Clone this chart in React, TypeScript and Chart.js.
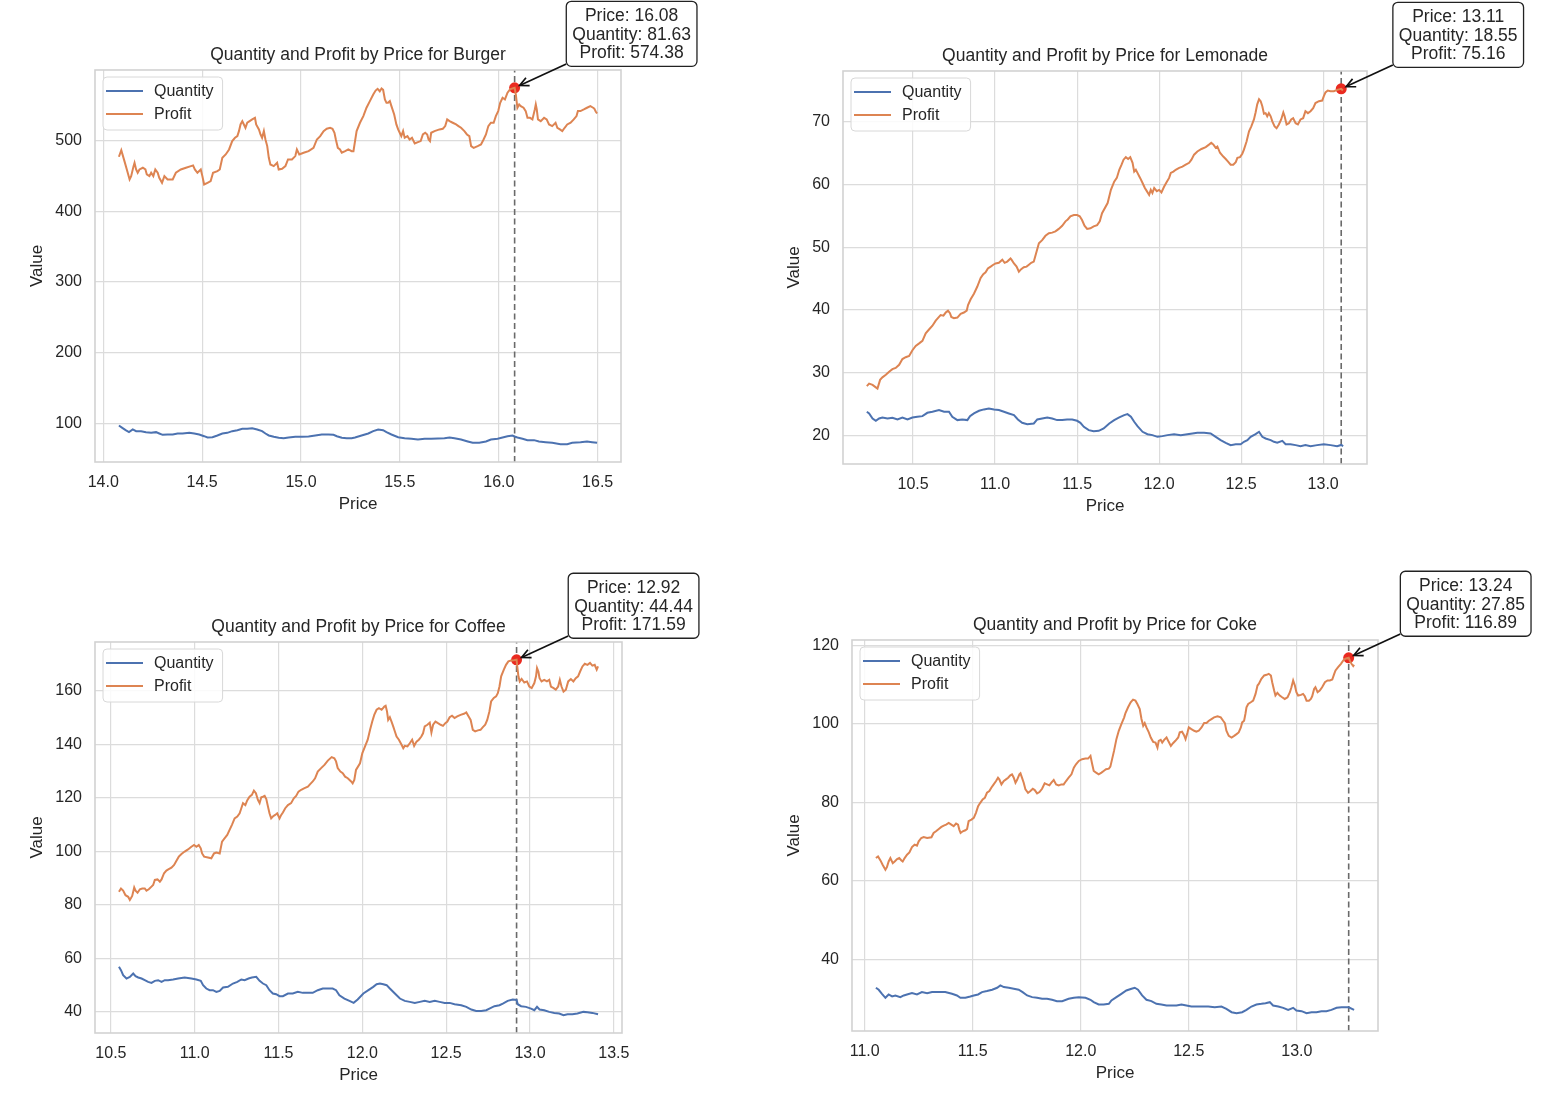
import React, { useEffect, useRef } from 'react';
import { Chart, registerables } from 'chart.js';

Chart.register(...registerables);

const FONT = '"Liberation Sans", Arial, Helvetica, sans-serif';
const TEXT = '#262626';
const BLUE = '#4C72B0';
const ORANGE = '#DD8452';
const GRID = '#dcdcdc';

// ---------------- Burger ----------------
const burgerProfitPrice = [
  14.079, 14.091, 14.107, 14.119, 14.133, 14.141, 14.153, 14.158, 14.166, 14.174,
  14.183, 14.2, 14.213, 14.22, 14.233, 14.242, 14.253, 14.263, 14.275, 14.283,
  14.297, 14.309, 14.325, 14.351, 14.367, 14.392, 14.418, 14.443, 14.454, 14.463,
  14.476, 14.493, 14.501, 14.51, 14.527, 14.543, 14.555, 14.577, 14.589, 14.602,
  14.619, 14.636, 14.652, 14.666, 14.678, 14.686, 14.694, 14.703, 14.711, 14.719,
  14.728, 14.74, 14.753, 14.767, 14.773, 14.787, 14.795, 14.803, 14.812, 14.82,
  14.829, 14.837, 14.845, 14.862, 14.879, 14.887, 14.904, 14.921, 14.934, 14.954,
  14.971, 14.979, 14.991, 15.013, 15.038, 15.063, 15.08, 15.097, 15.114, 15.13,
  15.147, 15.159, 15.169, 15.176, 15.186, 15.197, 15.206, 15.223, 15.239, 15.256,
  15.265, 15.273, 15.281, 15.298, 15.315, 15.331, 15.348, 15.365, 15.377, 15.387,
  15.398, 15.407, 15.415, 15.424, 15.432, 15.44, 15.449, 15.457, 15.471, 15.482,
  15.491, 15.499, 15.507, 15.516, 15.524, 15.538, 15.549, 15.561, 15.575, 15.591,
  15.605, 15.616, 15.628, 15.638, 15.645, 15.652, 15.658, 15.675, 15.7, 15.717,
  15.729, 15.739, 15.751, 15.767, 15.784, 15.796, 15.809, 15.826, 15.839, 15.851,
  15.86, 15.873, 15.893, 15.91, 15.923, 15.935, 15.947, 15.96, 15.974, 15.985,
  15.997, 16.007, 16.019, 16.031, 16.044, 16.057, 16.069, 16.08, 16.086, 16.094,
  16.103, 16.111, 16.125, 16.136, 16.145, 16.158, 16.17, 16.182, 16.187, 16.192,
  16.198, 16.212, 16.229, 16.242, 16.254, 16.27, 16.287, 16.296, 16.309, 16.321,
  16.333, 16.346, 16.363, 16.379, 16.393, 16.4, 16.413, 16.43, 16.446, 16.463,
  16.477, 16.483, 16.49, 16.497,
];
const burgerProfit = [
  477, 486.3, 470.8, 459, 444.9, 449.6, 463.7, 468.4, 459, 454.3,
  459, 461.4, 459, 452, 449.6, 454.3, 449.6, 459, 454.3, 447.2,
  440.2, 449.6, 444.9, 444.9, 454.3, 459, 461.4, 463.7, 464.7, 459,
  454.3, 459, 449.6, 437.8, 440.2, 442.5, 454.3, 456.6, 459, 475.5,
  480.2, 487.3, 499.1, 503.8, 506.1, 513.2, 522.6, 527.3, 522.6, 517.9,
  525, 527.3, 529.7, 532, 522.6, 515.6, 508.5, 503.8, 513.2, 501.4,
  492, 475.5, 466.1, 463.7, 468.4, 459, 460, 463.7, 473.1, 473.1,
  477.9, 487.3, 480.2, 482.6, 484.9, 489.6, 501.4, 506.1, 513.2, 516.5,
  517.9, 516.5, 510.9, 501.4, 489.6, 487.3, 482.6, 484.9, 487.3, 484.9,
  484.9, 499, 513.2, 525, 534.4, 546.2, 555.6, 565, 570.5, 573,
  569.5, 573.5, 571.5, 557.9, 553.2, 553.2, 555.6, 548.5, 536.7, 522.6,
  515.6, 510.9, 506.1, 513.2, 503.8, 506.1, 501.4, 503.8, 495.8, 497.6,
  499.1, 508.5, 510.9, 508.5, 501.4, 499.1, 510.9, 513.2, 515.6, 516.5,
  520.3, 529.7, 527.3, 525, 522.6, 520.3, 517.9, 513.2, 508.5, 506.1,
  492, 489.6, 492, 494.4, 501.4, 508.5, 520.3, 525, 525, 534.4,
  541.5, 553.2, 560.3, 557.9, 567.4, 572.1, 573.5, 574.38, 565, 546.2,
  550.9, 548.5, 546.2, 541.5, 532, 532, 529.7, 543.8, 550.9, 543.8,
  529.7, 527.3, 532, 529.7, 522.6, 520.3, 525, 517.9, 515.6, 513.2,
  517.9, 522.6, 525, 529.7, 534.4, 541.5, 541.5, 543.8, 546.2, 548.5,
  546.2, 545, 541, 538,
];
const burgerQtyPrice = [
  14.079, 14.096, 14.113, 14.13, 14.149, 14.166, 14.191, 14.216, 14.242, 14.267,
  14.283, 14.3, 14.325, 14.351, 14.376, 14.401, 14.435, 14.46, 14.485, 14.51,
  14.527, 14.552, 14.577, 14.602, 14.627, 14.652, 14.678, 14.703, 14.728, 14.753,
  14.778, 14.803, 14.82, 14.837, 14.862, 14.887, 14.912, 14.937, 14.971, 15.005,
  15.038, 15.072, 15.105, 15.139, 15.164, 15.181, 15.206, 15.231, 15.256, 15.273,
  15.306, 15.34, 15.365, 15.39, 15.415, 15.432, 15.457, 15.491, 15.524, 15.558,
  15.591, 15.625, 15.658, 15.692, 15.725, 15.751, 15.776, 15.809, 15.843, 15.868,
  15.901, 15.935, 15.96, 15.994, 16.019, 16.044, 16.069, 16.08, 16.094, 16.12,
  16.145, 16.178, 16.203, 16.237, 16.27, 16.312, 16.346, 16.371, 16.413, 16.446,
  16.472, 16.497,
];
const burgerQty = [
  97.2, 93.9, 90.6, 87.8, 91.6, 89.2, 89.2, 87.8, 86.8, 87.8,
  85.9, 84, 84.5, 84.5, 85.9, 85.9, 86.8, 85.9, 84.5, 82.1,
  80.3, 80.7, 83.1, 85.9, 86.8, 89.2, 90.6, 92.5, 92.5, 93.4,
  91.6, 89.2, 85.9, 83.1, 81.2, 79.8, 79.3, 80.3, 81.2, 81.2,
  81.7, 83.1, 84.5, 84.5, 84, 82.1, 79.8, 79.3, 79.3, 80.3,
  83.1, 85.9, 89.2, 91.6, 90.6, 87.8, 84.5, 80.7, 79.3, 78.4,
  77.4, 78.4, 78.4, 78.8, 79.3, 80.3, 79.3, 77.4, 74.6, 72.7,
  72.7, 74.6, 77.4, 78.4, 80.3, 82.1, 83.1, 81.63, 80.3, 78.4,
  76.5, 76.5, 74.6, 73.6, 72.7, 70.8, 70.8, 72.7, 73.6, 74.6,
  73.6, 72.7,
];
const burgerPeak = [16.08, 81.63, 574.38]; // price, quantity, profit

// ---------------- Lemonade ----------------
const lemonadeProfitPrice = [
  10.218, 10.232, 10.253, 10.273, 10.283, 10.299, 10.313, 10.334, 10.354, 10.374,
  10.394, 10.415, 10.435, 10.455, 10.476, 10.496, 10.516, 10.537, 10.557, 10.577,
  10.597, 10.618, 10.638, 10.658, 10.668, 10.685, 10.699, 10.713, 10.725, 10.733,
  10.749, 10.77, 10.79, 10.81, 10.827, 10.835, 10.851, 10.871, 10.891, 10.912,
  10.928, 10.942, 10.956, 10.973, 10.989, 11.003, 11.023, 11.044, 11.058, 11.074,
  11.094, 11.1, 11.115, 11.131, 11.145, 11.159, 11.175, 11.192, 11.206, 11.22,
  11.236, 11.253, 11.267, 11.287, 11.307, 11.328, 11.348, 11.368, 11.388, 11.409,
  11.429, 11.443, 11.459, 11.48, 11.5, 11.516, 11.53, 11.545, 11.561, 11.581,
  11.601, 11.622, 11.638, 11.652, 11.686, 11.706, 11.726, 11.742, 11.757, 11.771,
  11.783, 11.797, 11.811, 11.824, 11.838, 11.848, 11.858, 11.868, 11.884, 11.899,
  11.913, 11.925, 11.939, 11.949, 11.959, 11.97, 11.986, 12.0, 12.014, 12.03,
  12.047, 12.061, 12.071, 12.087, 12.101, 12.122, 12.142, 12.162, 12.183, 12.197,
  12.213, 12.233, 12.258, 12.284, 12.304, 12.318, 12.331, 12.345, 12.355, 12.371,
  12.391, 12.406, 12.42, 12.436, 12.452, 12.467, 12.477, 12.493, 12.507, 12.517,
  12.533, 12.548, 12.562, 12.578, 12.588, 12.598, 12.609, 12.619, 12.629, 12.639,
  12.649, 12.659, 12.669, 12.68, 12.69, 12.704, 12.716, 12.73, 12.744, 12.757,
  12.765, 12.777, 12.791, 12.805, 12.817, 12.832, 12.846, 12.862, 12.878, 12.892,
  12.907, 12.923, 12.939, 12.953, 12.974, 12.994, 13.004, 13.014, 13.028, 13.045,
  13.065, 13.085, 13.11, 13.12,
];
const lemonadeProfit = [
  27.9, 28.3, 28.1, 27.7, 27.5, 28.9, 29.3, 29.7, 30.2, 30.6,
  30.8, 31.3, 32.2, 32.5, 32.7, 33.6, 34.3, 34.7, 35.1, 36.3,
  36.9, 37.5, 38.3, 38.9, 39.2, 39.1, 39.6, 39.9, 39.5, 38.9,
  38.7, 38.8, 39.4, 39.6, 39.9, 40.8, 41.7, 42.6, 43.7, 45.1,
  45.7, 46, 46.6, 46.9, 47.2, 47.4, 47.5, 48, 47.5, 47.7,
  48.2, 48, 47.4, 46.9, 46.1, 46.5, 46.8, 46.9, 47.2, 47.5,
  47.7, 49.3, 50.6, 51.1, 51.8, 52.2, 52.3, 52.5, 52.9, 53.4,
  54.1, 54.4, 54.9, 55.1, 55.1, 54.9, 54.3, 53.4, 52.9, 53,
  53.3, 53.5, 54.1, 55.4, 57, 59.1, 60.4, 61, 62.3, 63.1,
  63.9, 64.3, 64, 64.3, 63.4, 62, 62.3, 61.8, 61, 60.2,
  59.4, 58.9, 58.3, 59.1, 58.6, 59.4, 58.9, 59.1, 58.7, 59.6,
  60.4, 61, 61.8, 62, 62.3, 62.6, 62.8, 63.1, 63.4, 63.9,
  64.7, 65.2, 65.6, 65.9, 66.3, 66.6, 66.3, 65.8, 66, 65,
  64.4, 64, 63.6, 63.1, 63.1, 63.5, 64.2, 64.3, 64.85, 65.5,
  66.8, 68.4, 69.2, 70.3, 71.4, 72.7, 73.5, 73.2, 72.4, 71.2,
  71.3, 70.8, 71.3, 70.8, 70, 69.2, 68.9, 69.5, 70.3, 71.4,
  70.8, 69.5, 69.7, 70.3, 70.5, 69.7, 69.5, 70.3, 70.5, 71.6,
  71.3, 71.6, 72.1, 72.9, 73.2, 73.3, 74, 74.6, 74.9, 74.8,
  74.8, 75, 75.16, 74.9,
];
const lemonadeQtyPrice = [
  10.218, 10.232, 10.253, 10.273, 10.293, 10.313, 10.344, 10.374, 10.405, 10.435,
  10.466, 10.496, 10.526, 10.557, 10.587, 10.618, 10.658, 10.689, 10.719, 10.739,
  10.77, 10.8, 10.831, 10.847, 10.871, 10.902, 10.932, 10.962, 10.993, 11.023,
  11.054, 11.084, 11.115, 11.139, 11.165, 11.196, 11.236, 11.257, 11.287, 11.318,
  11.348, 11.378, 11.409, 11.439, 11.47, 11.5, 11.52, 11.541, 11.571, 11.601,
  11.632, 11.662, 11.696, 11.726, 11.757, 11.787, 11.807, 11.828, 11.848, 11.868,
  11.899, 11.929, 11.959, 11.99, 12.02, 12.051, 12.091, 12.132, 12.172, 12.203,
  12.233, 12.274, 12.314, 12.345, 12.375, 12.406, 12.436, 12.467, 12.497, 12.517,
  12.538, 12.558, 12.588, 12.609, 12.629, 12.649, 12.68, 12.7, 12.72, 12.751,
  12.771, 12.801, 12.832, 12.862, 12.892, 12.923, 12.963, 13.004, 13.045, 13.085,
  13.11, 13.122,
];
const lemonadeQty = [
  23.82, 23.56, 22.76, 22.39, 22.76, 22.92, 22.76, 22.87, 22.6, 22.92,
  22.6, 22.92, 23.03, 23.13, 23.66, 23.82, 24.09, 23.82, 23.82, 23.03,
  22.5, 22.6, 22.5, 23.13, 23.56, 23.98, 24.2, 24.35, 24.2, 24.09,
  23.82, 23.56, 23.29, 22.6, 22.07, 21.86, 21.97, 22.6, 22.76, 22.92,
  22.76, 22.5, 22.5, 22.6, 22.6, 22.39, 22.07, 21.43, 20.9, 20.74,
  20.8, 21.17, 21.97, 22.5, 22.92, 23.29, 23.45, 23.03, 22.23, 21.54,
  20.64, 20.26, 20.11, 19.84, 19.95, 20.11, 20.26, 20.11, 20.26, 20.37,
  20.48, 20.48, 20.37, 19.84, 19.31, 18.89, 18.52, 18.67, 18.67, 19.05,
  19.31, 19.84, 20.26, 20.64, 19.84, 19.58, 19.31, 19.05, 18.89, 19.2,
  18.67, 18.67, 18.52, 18.36, 18.52, 18.36, 18.52, 18.67, 18.52, 18.36,
  18.55, 18.36,
];
const lemonadePeak = [13.11, 18.55, 75.16];

// ---------------- Coffee ----------------
const coffeeProfitPrice = [
  10.548, 10.56, 10.573, 10.587, 10.603, 10.613, 10.627, 10.639, 10.647, 10.659,
  10.673, 10.687, 10.702, 10.712, 10.726, 10.742, 10.752, 10.762, 10.778, 10.792,
  10.802, 10.817, 10.831, 10.845, 10.861, 10.877, 10.891, 10.905, 10.921, 10.94,
  10.96, 10.98, 10.996, 11.01, 11.024, 11.036, 11.044, 11.056, 11.079, 11.099,
  11.115, 11.129, 11.149, 11.163, 11.179, 11.194, 11.208, 11.222, 11.238, 11.254,
  11.268, 11.278, 11.288, 11.302, 11.313, 11.327, 11.341, 11.353, 11.365, 11.377,
  11.387, 11.397, 11.407, 11.417, 11.427, 11.437, 11.446, 11.456, 11.466, 11.48,
  11.492, 11.506, 11.516, 11.526, 11.54, 11.556, 11.575, 11.591, 11.605, 11.619,
  11.635, 11.655, 11.675, 11.69, 11.704, 11.718, 11.734, 11.754, 11.774, 11.794,
  11.817, 11.833, 11.843, 11.853, 11.869, 11.883, 11.897, 11.913, 11.933, 11.942,
  11.952, 11.962, 11.986, 12.0, 12.016, 12.032, 12.046, 12.059, 12.071, 12.085,
  12.099, 12.115, 12.131, 12.139, 12.147, 12.154, 12.164, 12.174, 12.184, 12.194,
  12.204, 12.218, 12.234, 12.244, 12.253, 12.269, 12.283, 12.297, 12.309, 12.323,
  12.337, 12.352, 12.362, 12.372, 12.388, 12.402, 12.412, 12.422, 12.436, 12.451,
  12.467, 12.481, 12.495, 12.507, 12.521, 12.535, 12.55, 12.566, 12.586, 12.606,
  12.62, 12.634, 12.646, 12.659, 12.673, 12.689, 12.705, 12.719, 12.733, 12.745,
  12.758, 12.768, 12.784, 12.798, 12.808, 12.818, 12.828, 12.844, 12.857, 12.871,
  12.887, 12.903, 12.92, 12.923, 12.931, 12.939, 12.95, 12.966, 12.982, 12.996,
  13.01, 13.026, 13.036, 13.042, 13.05, 13.057, 13.069, 13.085, 13.101, 13.115,
  13.125, 13.141, 13.154, 13.168, 13.178, 13.188, 13.2, 13.214, 13.228, 13.244,
  13.259, 13.273, 13.287, 13.299, 13.313, 13.327, 13.343, 13.358, 13.372, 13.386,
  13.398, 13.406,
];
const coffeeProfit = [
  84.9, 86.1, 85.3, 83.6, 83, 81.8, 83.3, 86.5, 85.3, 84.5,
  85.8, 86.1, 86.1, 85.3, 85.8, 86.8, 87.4, 89.3, 89.5, 88.6,
  89.5, 91.8, 92.8, 93.3, 93.9, 94.9, 96.5, 98, 99, 99.9,
  100.7, 101.7, 102.4, 101.7, 102.4, 101.1, 99.2, 98, 97.7, 97.4,
  99.2, 99.5, 99.2, 103.6, 104.9, 106.1, 108, 109.9, 112.3, 113,
  114.2, 116.1, 118, 117.3, 119, 120.4, 121.1, 122.7, 121.7, 119.2,
  118, 120.2, 120.4, 120.7, 119.5, 116.7, 114.2, 112.3, 113, 113.6,
  114.2, 112.3, 113.6, 114.5, 116.1, 117.3, 118, 119.8, 120.7, 122.3,
  123, 123.6, 124.2, 125.2, 126.1, 127.3, 129.8, 131.1, 132.3, 133.9,
  135.2, 134.8, 133.6, 131.1, 129.8, 129.2, 127.9, 127.3, 126.1, 125.4,
  126.7, 130.4, 132.9, 136.7, 139.2, 141.7, 145.4, 148.5, 151, 152.9,
  153.5, 152.9, 154.1, 154.4, 152.3, 149.1, 150.1, 148.5, 146.7, 144.8,
  142.9, 141.7, 139.8, 138.5, 139.4, 139.2, 140.4, 141.7, 139.4, 141,
  141.7, 142.9, 144.1, 146.7, 147.3, 148.1, 144.4, 147.3, 148.5, 147.9,
  147.3, 146.9, 147.9, 148.5, 150.1, 150.7, 149.8, 150.4, 151, 151.4,
  151.9, 150.4, 149.1, 145.4, 144.8, 145.2, 145.4, 146.4, 147.3, 149.1,
  152.3, 156, 157.3, 157.9, 159.1, 161.6, 165.4, 167.9, 169.7, 171,
  171.3, 171.4, 171.59, 169.7, 165.4, 163.5, 164.4, 163.1, 163.5, 161.6,
  161, 162.9, 165.4, 168.5, 167.2, 164.7, 163.5, 164.1, 163.5, 164.1,
  161.6, 161, 160.4, 161.6, 164.1, 161.6, 159.7, 160.4, 163.5, 164.4,
  163.5, 164.7, 165.4, 167.2, 169.1, 170.1, 169.7, 170.4, 169.4, 169.7,
  167.9, 169.1,
];
const coffeeQtyPrice = [
  10.548, 10.56, 10.573, 10.593, 10.613, 10.633, 10.647, 10.663, 10.683, 10.702,
  10.722, 10.742, 10.762, 10.782, 10.802, 10.821, 10.841, 10.871, 10.901, 10.94,
  10.98, 11.01, 11.036, 11.05, 11.069, 11.089, 11.109, 11.129, 11.149, 11.169,
  11.198, 11.228, 11.254, 11.278, 11.298, 11.321, 11.341, 11.367, 11.387, 11.407,
  11.427, 11.446, 11.466, 11.486, 11.506, 11.526, 11.556, 11.585, 11.615, 11.645,
  11.675, 11.704, 11.734, 11.764, 11.794, 11.823, 11.843, 11.863, 11.893, 11.923,
  11.948, 11.972, 12.006, 12.036, 12.065, 12.085, 12.105, 12.125, 12.145, 12.164,
  12.194, 12.224, 12.253, 12.283, 12.313, 12.343, 12.372, 12.402, 12.432, 12.461,
  12.491, 12.521, 12.55, 12.59, 12.62, 12.65, 12.679, 12.709, 12.739, 12.758,
  12.788, 12.818, 12.838, 12.867, 12.897, 12.92, 12.927, 12.947, 12.976, 13.006,
  13.026, 13.042, 13.057, 13.085, 13.115, 13.145, 13.174, 13.2, 13.224, 13.253,
  13.283, 13.319, 13.343, 13.372, 13.406,
];
const coffeeQty = [
  56.82, 55.57, 53.7, 52.45, 53.08, 54.33, 53.33, 52.83, 52.45, 51.83,
  51.2, 50.83, 51.58, 51.83, 51.2, 51.83, 51.83, 52.08, 52.45, 52.83,
  52.45, 52.08, 51.58, 49.96, 48.71, 48.09, 48.09, 47.46, 47.83, 49.08,
  49.34, 50.58, 51.2, 52.08, 51.83, 52.45, 52.83, 53.08, 51.58, 50.58,
  49.96, 48.09, 46.84, 46.59, 45.84, 45.84, 46.84, 46.84, 47.46, 47.09,
  47.09, 47.09, 48.09, 48.71, 48.71, 48.71, 48.09, 46.21, 44.97, 44.09,
  43.34, 44.59, 46.84, 48.09, 49.34, 50.33, 50.58, 50.33, 49.96, 48.71,
  46.84, 44.97, 44.09, 43.72, 43.34, 43.72, 44.09, 43.72, 44.09, 43.72,
  43.34, 43.34, 42.84, 42.47, 41.85, 40.85, 40.35, 40.35, 40.6, 41.22,
  42.1, 42.47, 43.09, 44.09, 44.59, 44.44, 42.84, 42.1, 41.85, 41.22,
  40.6, 41.85, 40.85, 40.6, 39.98, 39.6, 39.35, 38.73, 39.1, 39.1,
  39.35, 39.98, 39.85, 39.6, 39.1,
];
const coffeePeak = [12.92, 44.44, 171.59];

// ---------------- Coke ----------------
const cokeProfitPrice = [
  11.052, 11.062, 11.073, 11.083, 11.096, 11.103, 11.111, 11.119, 11.13, 11.139,
  11.15, 11.16, 11.17, 11.176, 11.185, 11.196, 11.207, 11.219, 11.231, 11.242,
  11.25, 11.262, 11.273, 11.289, 11.309, 11.319, 11.33, 11.343, 11.355, 11.366,
  11.377, 11.389, 11.401, 11.412, 11.423, 11.432, 11.438, 11.444, 11.454, 11.466,
  11.474, 11.481, 11.494, 11.505, 11.515, 11.525, 11.535, 11.546, 11.556, 11.566,
  11.577, 11.586, 11.597, 11.608, 11.617, 11.623, 11.633, 11.644, 11.654, 11.664,
  11.674, 11.682, 11.69, 11.698, 11.705, 11.716, 11.721, 11.728, 11.736, 11.744,
  11.756, 11.767, 11.778, 11.787, 11.798, 11.809, 11.821, 11.833, 11.844, 11.855,
  11.864, 11.875, 11.886, 11.898, 11.91, 11.921, 11.932, 11.944, 11.957, 11.968,
  11.978, 11.991, 12.006, 12.022, 12.034, 12.045, 12.052, 12.06, 12.071, 12.083,
  12.096, 12.106, 12.117, 12.13, 12.137, 12.154, 12.165, 12.176, 12.188, 12.201,
  12.207, 12.219, 12.231, 12.242, 12.253, 12.262, 12.273, 12.281, 12.289, 12.296,
  12.304, 12.315, 12.324, 12.335, 12.346, 12.355, 12.361, 12.37, 12.377, 12.386,
  12.397, 12.407, 12.417, 12.427, 12.438, 12.451, 12.458, 12.469, 12.478, 12.485,
  12.494, 12.5, 12.512, 12.525, 12.535, 12.546, 12.559, 12.571, 12.582, 12.593,
  12.605, 12.617, 12.633, 12.648, 12.659, 12.667, 12.674, 12.685, 12.698, 12.71,
  12.721, 12.731, 12.741, 12.747, 12.756, 12.762, 12.767, 12.775, 12.787, 12.798,
  12.809, 12.818, 12.824, 12.836, 12.849, 12.86, 12.87, 12.88, 12.886, 12.895,
  12.901, 12.91, 12.921, 12.932, 12.944, 12.957, 12.968, 12.975, 12.983, 12.991,
  12.998, 13.006, 13.019, 13.029, 13.037, 13.045, 13.056, 13.065, 13.071, 13.08,
  13.086, 13.096, 13.106, 13.117, 13.13, 13.142, 13.153, 13.164, 13.173, 13.179,
  13.191, 13.204, 13.215, 13.225, 13.24, 13.245, 13.253, 13.261, 13.265,
];
const cokeProfit = [
  65.86, 66.28, 65.26, 64.15, 62.87, 63.55, 65, 65.86, 64.57, 65,
  65.6, 65.86, 65.26, 65, 65.86, 66.71, 67.31, 68.67, 69.27, 69.01,
  70.12, 70.98, 71.23, 70.98, 71.15, 72.26, 72.68, 73.28, 73.79, 74.14,
  74.39, 74.82, 74.39, 73.96, 74.65, 74.39, 73.11, 72.26, 72.68, 72.94,
  73.28, 75.25, 75.67, 76.1, 77.38, 79.09, 79.94, 80.79, 81.22, 82.5,
  82.93, 83.78, 84.63, 85.49, 86.34, 85.91, 84.63, 85.49, 85.91, 86.34,
  86.94, 87.2, 86.34, 85.06, 85.74, 87.2, 87.45, 86.34, 85.06, 83.35,
  82.5, 82.93, 83.52, 83.18, 82.33, 82.67, 83.52, 84.89, 84.63, 84.38,
  85.06, 85.74, 84.63, 84.38, 84.63, 84.63, 85.49, 86.34, 87.2, 88.9,
  89.76, 90.61, 91.04, 91.21, 91.21, 91.89, 90.01, 88.05, 87.62, 87.2,
  87.62, 88.05, 88.48, 88.65, 89.16, 93.17, 96.16, 98.29, 100, 101.71,
  102.82, 104.27, 105.55, 106.23, 105.97, 105.12, 103.84, 101.28, 99.57, 100.26,
  99.15, 97.87, 96.58, 95.47, 95.3, 94.02, 95.73, 95.99, 95.3, 95.99,
  96.58, 95.47, 94.45, 95.13, 95.73, 96.58, 97.87, 98.04, 97.18, 96.16,
  97.87, 99.15, 98.72, 98.29, 98.04, 98.29, 99.15, 100.26, 100.26, 100.85,
  101.28, 101.71, 101.96, 101.71, 100.85, 100.26, 98.29, 97.01, 96.58, 97.01,
  97.44, 97.87, 99.15, 100.43, 100.85, 102.56, 104.27, 105.12, 105.55, 105.97,
  107.68, 109.82, 110.24, 111.52, 112.38, 112.55, 112.8, 112.38, 110.67, 108.54,
  107.26, 107.94, 107.26, 106.83, 106.4, 106.83, 108.11, 109.39, 111.1, 109.82,
  108.11, 107.26, 107.43, 107.68, 107.08, 105.97, 105.97, 106.4, 107.08, 108.96,
  109.39, 108.11, 108.54, 109.39, 110.67, 111.1, 111.1, 111.35, 112.8, 113.66,
  114.51, 115.36, 116.22, 116.65, 116.89, 116.22, 115.36, 114.77, 115.11,
];
const cokeQtyPrice = [
  11.052, 11.065, 11.08, 11.096, 11.111, 11.127, 11.142, 11.165, 11.181, 11.196,
  11.219, 11.242, 11.265, 11.289, 11.312, 11.343, 11.373, 11.404, 11.427, 11.443,
  11.466, 11.489, 11.505, 11.525, 11.543, 11.566, 11.59, 11.613, 11.628, 11.644,
  11.667, 11.69, 11.713, 11.731, 11.752, 11.775, 11.798, 11.821, 11.844, 11.867,
  11.89, 11.914, 11.944, 11.968, 11.991, 12.022, 12.045, 12.06, 12.083, 12.106,
  12.13, 12.142, 12.165, 12.188, 12.211, 12.235, 12.25, 12.265, 12.284, 12.304,
  12.327, 12.35, 12.373, 12.397, 12.42, 12.443, 12.466, 12.489, 12.512, 12.535,
  12.566, 12.59, 12.62, 12.651, 12.674, 12.698, 12.721, 12.747, 12.767, 12.79,
  12.813, 12.836, 12.855, 12.875, 12.89, 12.914, 12.937, 12.96, 12.983, 12.998,
  13.022, 13.045, 13.068, 13.091, 13.114, 13.137, 13.16, 13.184, 13.207, 13.24,
  13.265,
];
const cokeQty = [
  32.82, 32.31, 31.28, 30.26, 31.11, 30.6, 30.86, 30.43, 30.86, 31.11,
  31.45, 31.11, 31.71, 31.45, 31.71, 31.71, 31.71, 31.28, 30.86, 30.26,
  30.26, 30.6, 30.86, 31.11, 31.71, 31.97, 32.31, 32.82, 33.42, 32.99,
  32.82, 32.56, 32.31, 31.71, 30.86, 30.43, 30.26, 30, 30, 29.75,
  29.41, 29.41, 30, 30.26, 30.43, 30.26, 29.75, 29.15, 28.55, 28.55,
  28.72, 29.58, 30.43, 31.28, 32.14, 32.56, 32.82, 32.31, 30.86, 29.75,
  29.41, 28.72, 28.55, 28.3, 28.3, 28.3, 28.55, 28.3, 28.04, 28.04,
  28.04, 28.04, 27.87, 28.04, 27.44, 26.59, 26.33, 26.59, 27.19, 28.04,
  28.55, 28.72, 28.89, 29.15, 28.3, 28.04, 27.7, 27.19, 27.7, 27.02,
  26.85, 26.33, 26.59, 26.59, 26.85, 26.85, 27.19, 27.7, 27.87, 27.85,
  27.19,
];
const cokePeak = [13.24, 27.85, 116.89];

const xTickStep = [0.5, 0.5, 0.5, 0.5];
const yTickStep = [100, 10, 20, 20];
const productNames = ['Burger', 'Lemonade', 'Coffee', 'Coke'];

// ---------------- layout (positions only) ----------------
type Box = { left: number; top: number; w: number; h: number; l: number; t: number; r: number; b: number };
const boxes: Box[] = [
  { left: 0, top: 0, w: 775, h: 555, l: 95, t: 70, r: 621, b: 462 },
  { left: 775, top: 0, w: 775, h: 555, l: 68, t: 71, r: 592, b: 464 },
  { left: 0, top: 555, w: 775, h: 555, l: 95, t: 87, r: 622, b: 478 },
  { left: 775, top: 555, w: 775, h: 555, l: 77, t: 85, r: 603, b: 476 },
];

type Panel = {
  name: string;
  qtyPrice: number[];
  qty: number[];
  profitPrice: number[];
  profit: number[];
  peak: number[];
  xStep: number;
  yStep: number;
  box: Box;
};

const panels: Panel[] = [
  { name: productNames[0], qtyPrice: burgerQtyPrice, qty: burgerQty, profitPrice: burgerProfitPrice, profit: burgerProfit, peak: burgerPeak, xStep: xTickStep[0], yStep: yTickStep[0], box: boxes[0] },
  { name: productNames[1], qtyPrice: lemonadeQtyPrice, qty: lemonadeQty, profitPrice: lemonadeProfitPrice, profit: lemonadeProfit, peak: lemonadePeak, xStep: xTickStep[1], yStep: yTickStep[1], box: boxes[1] },
  { name: productNames[2], qtyPrice: coffeeQtyPrice, qty: coffeeQty, profitPrice: coffeeProfitPrice, profit: coffeeProfit, peak: coffeePeak, xStep: xTickStep[2], yStep: yTickStep[2], box: boxes[2] },
  { name: productNames[3], qtyPrice: cokeQtyPrice, qty: cokeQty, profitPrice: cokeProfitPrice, profit: cokeProfit, peak: cokePeak, xStep: xTickStep[3], yStep: yTickStep[3], box: boxes[3] },
];

function paddedExtent(arrs: number[][]): [number, number] {
  let mn = Infinity;
  let mx = -Infinity;
  for (const a of arrs) for (const v of a) { if (v < mn) mn = v; if (v > mx) mx = v; }
  const pad = (mx - mn) * 0.05;
  return [mn - pad, mx + pad];
}

function stepTicks(min: number, max: number, step: number): number[] {
  const out: number[] = [];
  const first = Math.ceil(min / step - 1e-9);
  const last = Math.floor(max / step + 1e-9);
  for (let k = first; k <= last; k++) out.push(Math.round(k * step * 1000) / 1000);
  return out;
}

function roundRect(ctx: CanvasRenderingContext2D, x: number, y: number, w: number, h: number, r: number) {
  ctx.beginPath();
  ctx.moveTo(x + r, y);
  ctx.lineTo(x + w - r, y);
  ctx.arcTo(x + w, y, x + w, y + r, r);
  ctx.lineTo(x + w, y + h - r);
  ctx.arcTo(x + w, y + h, x + w - r, y + h, r);
  ctx.lineTo(x + r, y + h);
  ctx.arcTo(x, y + h, x, y + h - r, r);
  ctx.lineTo(x, y + r);
  ctx.arcTo(x, y, x + r, y, r);
  ctx.closePath();
}

function makeExtras(p: Panel) {
  return {
    id: 'extras',
    beforeDatasetsDraw(chart: any) {
      const { ctx, chartArea: ca, scales } = chart;
      const px = scales.x.getPixelForValue(p.peak[0]);
      ctx.save();
      ctx.strokeStyle = '#6a6a6a';
      ctx.lineWidth = 1.6;
      ctx.setLineDash([6, 3.5]);
      ctx.beginPath();
      ctx.moveTo(px, ca.bottom);
      ctx.lineTo(px, ca.top);
      ctx.stroke();
      ctx.restore();
    },
    afterDraw(chart: any) {
      const { ctx, chartArea: ca, scales } = chart;
      ctx.save();
      // frame (spines)
      ctx.strokeStyle = '#d2d2d2';
      ctx.lineWidth = 1.6;
      ctx.strokeRect(ca.left, ca.top, ca.right - ca.left, ca.bottom - ca.top);

      // legend
      ctx.font = `16px ${FONT}`;
      const qW = ctx.measureText('Quantity').width;
      const lx = ca.left + 8;
      const ly = ca.top + 7;
      const lw = 51 + qW + 9;
      const lh = 53;
      roundRect(ctx, lx, ly, lw, lh, 4);
      ctx.fillStyle = 'rgba(255,255,255,0.85)';
      ctx.fill();
      ctx.strokeStyle = '#d8d8d8';
      ctx.lineWidth = 1;
      ctx.stroke();
      const entries: [string, string][] = [['Quantity', BLUE], ['Profit', ORANGE]];
      entries.forEach(([label, color], i) => {
        const yy = ca.top + 21 + i * 23;
        ctx.strokeStyle = color;
        ctx.lineWidth = 2;
        ctx.beginPath();
        ctx.moveTo(ca.left + 11, yy);
        ctx.lineTo(ca.left + 48, yy);
        ctx.stroke();
        ctx.fillStyle = TEXT;
        ctx.textAlign = 'left';
        ctx.textBaseline = 'middle';
        ctx.fillText(label, ca.left + 59, yy + 1);
      });

      // title
      ctx.fillStyle = TEXT;
      ctx.textAlign = 'center';
      ctx.textBaseline = 'middle';
      ctx.font = `17.5px ${FONT}`;
      ctx.fillText(`Quantity and Profit by Price for ${p.name}`, (ca.left + ca.right) / 2, ca.top - 15);

      // axis titles
      ctx.font = `17px ${FONT}`;
      ctx.fillText('Price', (ca.left + ca.right) / 2, ca.bottom + 42);
      ctx.font = `16px ${FONT}`;
      let maxW = 0;
      for (const t of scales.y.ticks) {
        const w = ctx.measureText(String(Math.round(t.value))).width;
        if (w > maxW) maxW = w;
      }
      ctx.font = `17px ${FONT}`;
      ctx.save();
      ctx.translate(ca.left - 13 - maxW - 18, (ca.top + ca.bottom) / 2);
      ctx.rotate(-Math.PI / 2);
      ctx.fillText('Value', 0, 0);
      ctx.restore();

      // annotation
      const px = scales.x.getPixelForValue(p.peak[0]);
      const py = scales.y.getPixelForValue(p.peak[2]);
      const lines = [
        `Price: ${p.peak[0].toFixed(2)}`,
        `Quantity: ${p.peak[1].toFixed(2)}`,
        `Profit: ${p.peak[2].toFixed(2)}`,
      ];
      ctx.font = `17.5px ${FONT}`;
      let tw = 0;
      for (const s of lines) tw = Math.max(tw, ctx.measureText(s).width);
      const bw = tw + 12;
      const bh = 65;
      const cx = px + 117;
      const cy = py - 54;
      const dx = px - cx;
      const dy = py - cy;
      const tt = Math.min(bw / 2 / Math.abs(dx), bh / 2 / Math.abs(dy));
      const sx = cx + dx * tt;
      const sy = cy + dy * tt;
      const len = Math.hypot(px - sx, py - sy);
      const ux = (px - sx) / len;
      const uy = (py - sy) / len;
      const ex = px - ux * 5.5;
      const ey = py - uy * 5.5;
      ctx.strokeStyle = '#111';
      ctx.lineWidth = 1.7;
      ctx.beginPath();
      ctx.moveTo(sx, sy);
      ctx.lineTo(ex, ey);
      ctx.stroke();
      const ang = Math.atan2(uy, ux);
      const hl = 10;
      ctx.beginPath();
      ctx.moveTo(ex - hl * Math.cos(ang - 0.45), ey - hl * Math.sin(ang - 0.45));
      ctx.lineTo(ex, ey);
      ctx.lineTo(ex - hl * Math.cos(ang + 0.45), ey - hl * Math.sin(ang + 0.45));
      ctx.stroke();

      roundRect(ctx, cx - bw / 2, cy - bh / 2, bw, bh, 5);
      ctx.fillStyle = '#ffffff';
      ctx.fill();
      ctx.strokeStyle = '#222';
      ctx.lineWidth = 1.3;
      ctx.stroke();
      ctx.fillStyle = TEXT;
      ctx.textAlign = 'center';
      ctx.textBaseline = 'middle';
      lines.forEach((s, i) => ctx.fillText(s, cx, cy + (i - 1) * 18.5 + 1));
      ctx.restore();
    },
  };
}

function buildConfig(p: Panel): any {
  const [xMin, xMax] = paddedExtent([p.qtyPrice, p.profitPrice]);
  const [yMin, yMax] = paddedExtent([p.qty, p.profit]);
  const xTicks = stepTicks(xMin, xMax, p.xStep);
  const yTicks = stepTicks(yMin, yMax, p.yStep);
  const bx = p.box;
  const tickFont = { family: FONT, size: 16 };
  return {
    type: 'line',
    data: {
      datasets: [
        {
          label: 'Quantity',
          data: p.qtyPrice.map((x, i) => ({ x, y: p.qty[i] })),
          borderColor: BLUE,
          borderWidth: 2,
          pointRadius: 0,
          tension: 0,
          fill: false,
        },
        {
          label: 'Profit',
          data: p.profitPrice.map((x, i) => ({ x, y: p.profit[i] })),
          borderColor: ORANGE,
          borderWidth: 2,
          pointRadius: 0,
          tension: 0,
          fill: false,
        },
        {
          type: 'scatter',
          label: 'Peak',
          data: [{ x: p.peak[0], y: p.peak[2] }],
          pointRadius: 5.5,
          pointBackgroundColor: '#ea2a20',
          pointBorderWidth: 0,
          backgroundColor: '#ea2a20',
          borderColor: '#ea2a20',
          clip: false,
        },
      ],
    },
    options: {
      responsive: false,
      animation: false,
      devicePixelRatio: 1,
      events: [],
      layout: { padding: { left: 0, top: bx.t, right: bx.w - bx.r, bottom: 0 } },
      plugins: { legend: { display: false }, tooltip: { enabled: false }, title: { display: false } },
      scales: {
        x: {
          type: 'linear',
          position: 'bottom',
          min: xMin,
          max: xMax,
          afterBuildTicks: (s: any) => { s.ticks = xTicks.map((v) => ({ value: v })); },
          afterFit: (s: any) => { s.height = bx.h - bx.b; },
          grid: { color: GRID, lineWidth: 1.2, drawTicks: false },
          border: { display: false },
          ticks: {
            autoSkip: false,
            maxRotation: 0,
            minRotation: 0,
            padding: 11,
            color: TEXT,
            font: tickFont,
            callback: (v: number) => Number(v).toFixed(1),
          },
        },
        y: {
          type: 'linear',
          position: 'left',
          min: yMin,
          max: yMax,
          afterBuildTicks: (s: any) => { s.ticks = yTicks.map((v) => ({ value: v })); },
          afterFit: (s: any) => { s.width = bx.l; },
          grid: { color: GRID, lineWidth: 1.2, drawTicks: false },
          border: { display: false },
          ticks: {
            autoSkip: false,
            padding: 13,
            color: TEXT,
            font: tickFont,
            callback: (v: number) => String(Math.round(Number(v))),
          },
        },
      },
    },
    plugins: [makeExtras(p)],
  };
}

function PanelChart({ panel }: { panel: Panel }) {
  const ref = useRef<HTMLCanvasElement | null>(null);
  useEffect(() => {
    if (!ref.current) return;
    const chart = new Chart(ref.current, buildConfig(panel));
    return () => chart.destroy();
  }, [panel]);
  const b = panel.box;
  return (
    <canvas
      ref={ref}
      width={b.w}
      height={b.h}
      style={{ position: 'absolute', left: b.left, top: b.top, width: b.w, height: b.h, display: 'block' }}
    />
  );
}

export default function App() {
  return (
    <div style={{ position: 'absolute', left: 0, top: 0, width: 1550, height: 1110, background: '#ffffff', overflow: 'hidden' }}>
      {panels.map((p) => (
        <PanelChart key={p.name} panel={p} />
      ))}
    </div>
  );
}
